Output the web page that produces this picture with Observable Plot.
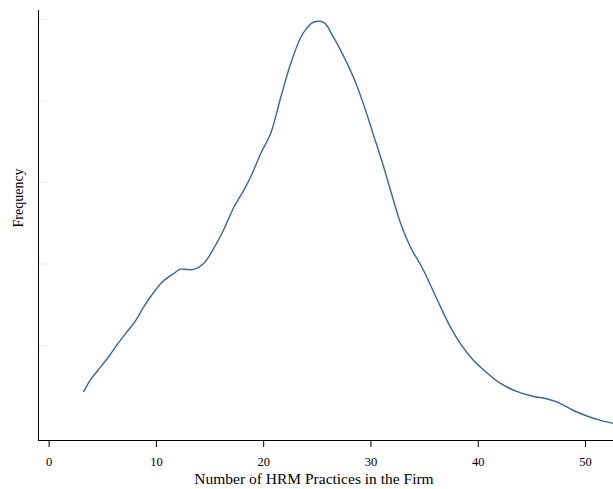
<!DOCTYPE html>
<html>
<head>
<meta charset="utf-8">
<script src="https://cdn.jsdelivr.net/npm/d3@7"></script>
<script src="https://cdn.jsdelivr.net/npm/@observablehq/plot@0.6"></script>
<style>
  html, body { margin: 0; padding: 0; background: #fff; }
  #chart svg { display: block; }
</style>
</head>
<body>
<div id="chart"></div>
<script>
// Kernel density estimate of the number of HRM practices per firm
const practices = [
  3.23, 3.88, 4.54, 5.56, 6.49, 7.43, 8.08, 8.73, 9.47, 10.41,
  11.06, 11.62, 12.18, 12.83, 13.48, 14.41, 15.34, 16.28, 17.21, 18.14,
  18.98, 19.72, 20.65, 21.59, 22.52, 23.45, 24.01, 24.57, 25.59, 26.52,
  27.55, 28.57, 29.41, 30.25, 31.09, 31.83, 32.77, 33.70, 34.81, 36.12,
  37.42, 38.45, 39.57, 40.78, 42.08, 43.57, 45.16, 46.27, 47.21, 48.88,
  50.00, 51.40, 52.61
];
const density = [
  0.00436, 0.00583, 0.00693, 0.00865, 0.01037, 0.01196, 0.01307, 0.01454, 0.01601, 0.01761,
  0.01834, 0.01883, 0.01933, 0.01933, 0.01933, 0.02006, 0.02190, 0.02423, 0.02693, 0.02902,
  0.03123, 0.03356, 0.03601, 0.04043, 0.04460, 0.04779, 0.04890, 0.04963, 0.04963, 0.04779,
  0.04522, 0.04227, 0.03920, 0.03577, 0.03233, 0.02902, 0.02497, 0.02202, 0.01945, 0.01577,
  0.01221, 0.01000, 0.00816, 0.00669, 0.00534, 0.00436, 0.00374, 0.00350, 0.00313, 0.00202,
  0.00141, 0.00080, 0.00043
];
const xTicks = [0, 10, 20, 30, 40, 50];
const yTicks = [0.01, 0.02, 0.03, 0.04, 0.05];
const xDomain = [-0.99, 52.61];
const yDomain = [-0.00166, 0.0511];
const xTitle = "Number of HRM Practices in the Firm";
const yTitle = "Frequency";

const curve = practices.map((x, i) => ({x, y: density[i]}));

const chart = Plot.plot({
  width: 613,
  height: 489,
  marginTop: 10,
  marginLeft: 38,
  marginRight: 0,
  marginBottom: 49,
  style: {fontFamily: "'Liberation Serif', serif", fontSize: "12px", background: "#fff", color: "#000"},
  x: {domain: xDomain},
  y: {domain: yDomain},
  marks: [
    // faint inward ticks along the left axis
    Plot.vector(yTicks, {
      y: d => d, frameAnchor: "left", rotate: 90, length: 8, anchor: "start",
      shape: {draw(ctx, l) { ctx.moveTo(0, 0); ctx.lineTo(0, -l); }},
      stroke: "#e2eaf0", strokeWidth: 1
    }),
    Plot.line(curve, {x: "x", y: "y", stroke: "#3a6794", strokeWidth: 1.4, curve: "catmull-rom"}),
    Plot.ruleX([xDomain[0]], {stroke: "#000", strokeWidth: 1}),
    Plot.ruleY([yDomain[0]], {stroke: "#000", strokeWidth: 1}),
    Plot.axisX({ticks: xTicks, tickSize: 7, tickPadding: 10, fontSize: 12.5, label: null, stroke: "#000"}),
    Plot.axisY({ticks: [], label: null}),
    Plot.text([xTitle], {frameAnchor: "bottom", dx: -12, dy: 43, lineAnchor: "bottom", fontSize: 15.5, fill: "#000"}),
    Plot.text([yTitle], {frameAnchor: "left", rotate: -90, dx: -20, dy: 2, fontSize: 14, fill: "#000"})
  ]
});
document.getElementById("chart").appendChild(chart);
</script>
</body>
</html>
